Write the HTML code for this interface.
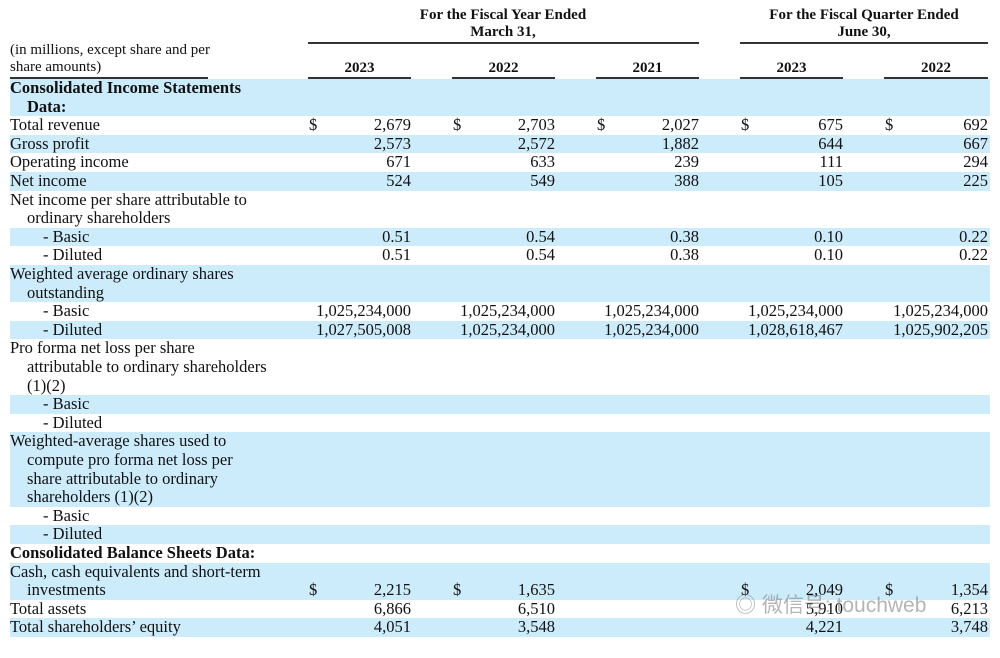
<!DOCTYPE html>
<html><head><meta charset="utf-8">
<style>
body{margin:0;background:#fff;width:1000px;height:658px;overflow:hidden;position:relative;font-family:"Liberation Serif",serif;color:#111}
.a{position:absolute;white-space:nowrap;font-size:16.5px;line-height:18.6px}
.band{position:absolute;left:10px;width:980px;height:18.6px;background:#ccecfc}
.hd{position:absolute;font-weight:bold;font-size:15px;text-align:center;white-space:nowrap;line-height:17px}
.ln{position:absolute;height:2px;background:#333}
</style></head>
<body>
<div class="hd" style="left:353px;width:300px;top:7px">For the Fiscal Year Ended<br>March 31,</div>
<div class="hd" style="left:714px;width:300px;top:7px">For the Fiscal Quarter Ended<br>June 30,</div>
<div class="ln" style="left:308px;width:391px;top:42px"></div>
<div class="ln" style="left:740px;width:248px;top:42px"></div>
<div class="a" style="left:10px;top:42px;font-size:15px;line-height:17px">(in millions, except share and per<br>share amounts)</div>
<div class="ln" style="left:10px;width:198px;top:77px"></div>
<div id="t"></div>
<div class="a" style="left:735px;top:597px;font-family:'Liberation Sans','Noto Sans CJK SC',sans-serif;font-size:21px;color:rgba(120,120,120,0.55)">◎ 微信号: touchweb</div>
<script>
const years = ["2023","2022","2021","2023","2022"];
const labels = ["Consolidated Income Statements","Data:","Total revenue","Gross profit","Operating income","Net income","Net income per share attributable to","ordinary shareholders","- Basic","- Diluted","Weighted average ordinary shares","outstanding","- Basic","- Diluted","Pro forma net loss per share","attributable to ordinary shareholders","(1)(2)","- Basic","- Diluted","Weighted-average shares used to","compute pro forma net loss per","share attributable to ordinary","shareholders (1)(2)","- Basic","- Diluted","Consolidated Balance Sheets Data:","Cash, cash equivalents and short-term","investments","Total assets","Total shareholders’ equity"];
const indents = [0,1,0,0,0,0,0,1,2,2,0,1,2,2,0,1,1,2,2,0,1,1,1,2,2,0,0,1,0,0];
const bold = [1,1,0,0,0,0,0,0,0,0,0,0,0,0,0,0,0,0,0,0,0,0,0,0,0,1,0,0,0,0];
const shaded = [1,1,0,1,0,1,0,0,1,0,1,1,0,1,0,0,0,1,0,1,1,1,1,0,1,0,1,1,0,1];
const dollarRows = {2:[1,1,1,1,1],27:[1,1,0,1,1]};
const values = {
 2:["2,679","2,703","2,027","675","692"],
 3:["2,573","2,572","1,882","644","667"],
 4:["671","633","239","111","294"],
 5:["524","549","388","105","225"],
 8:["0.51","0.54","0.38","0.10","0.22"],
 9:["0.51","0.54","0.38","0.10","0.22"],
 12:["1,025,234,000","1,025,234,000","1,025,234,000","1,025,234,000","1,025,234,000"],
 13:["1,027,505,008","1,025,234,000","1,025,234,000","1,028,618,467","1,025,902,205"],
 27:["2,215","1,635","","2,049","1,354"],
 28:["6,866","6,510","","5,910","6,213"],
 29:["4,051","3,548","","4,221","3,748"]
};
const t=document.getElementById('t');
const colRight=[411,555,699,843,988], colLeft=[308,452,596,740,884];
const top0=79, rh=18.6;
years.forEach((y,i)=>{
  const d=document.createElement('div');d.className='hd';
  
  
  d.style.left=colLeft[i]+'px';d.style.width=(colRight[i]-colLeft[i])+'px';d.style.top='60px';d.textContent=y;t.appendChild(d);
  const l=document.createElement('div');l.className='ln';
  
  
  l.style.left=colLeft[i]+'px';l.style.width=(colRight[i]-colLeft[i])+'px';l.style.top='77px';t.appendChild(l);
});
labels.forEach((lab,r)=>{
  const y=top0+r*rh;
  if(shaded[r]){const b=document.createElement('div');b.className='band';
    
    
    b.style.top=y+'px';t.appendChild(b);}
  const d=document.createElement('div');d.className='a';
  
  
  d.style.left=(10+[0,17,33][indents[r]])+'px';d.style.top=y+'px';
  if(bold[r])d.style.fontWeight='bold';d.textContent=lab;t.appendChild(d);
  if(values[r]) values[r].forEach((v,c)=>{
    if(!v)return;
    const e=document.createElement('div');e.className='a';
    
    
    e.style.right=(1000-colRight[c])+'px';e.style.top=y+'px';e.textContent=v;t.appendChild(e);
  });
  if(dollarRows[r]) dollarRows[r].forEach((f,c)=>{
    if(!f)return;
    const e=document.createElement('div');e.className='a';
    
    
    e.style.left=(colLeft[c]+1)+'px';e.style.top=y+'px';e.textContent='$';t.appendChild(e);
  });
});
</script>
</body></html>
